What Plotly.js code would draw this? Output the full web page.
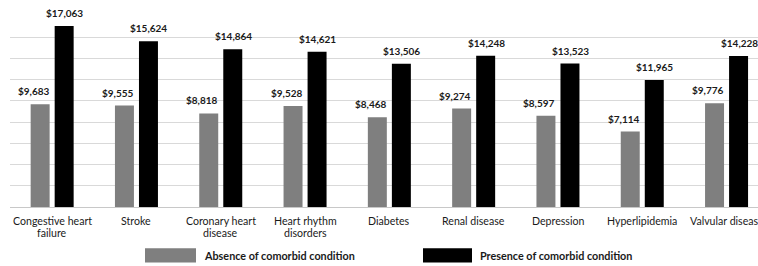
<!DOCTYPE html>
<html>
<head>
<meta charset="utf-8">
<script src="https://cdn.plot.ly/plotly-3.0.1.min.js"></script>
<style>html,body{margin:0;padding:0;background:#fff;}#chart{width:758px;height:266px;}</style>
</head>
<body>
<div id="chart"></div>
<script>
const categories = ["Congestive heart<br>failure", "Stroke", "Coronary heart<br>disease", "Heart rhythm<br>disorders", "Diabetes", "Renal disease", "Depression", "Hyperlipidemia", "Valvular disease"];
const seriesNames = ["Absence of comorbid condition", "Presence of comorbid condition"];
const absenceValues = [9683, 9555, 8818, 9528, 8468, 9274, 8597, 7114, 9776];
const presenceValues = [17063, 15624, 14864, 14621, 13506, 14248, 13523, 11965, 14228];
const seriesColors = ["#7f7f7f", "#000000"];

const FONT = "Lato, 'Open Sans', sans-serif";
const fmt = v => "$" + v.toLocaleString("en-US");

const allSeries = [absenceValues, presenceValues];
const traces = allSeries.map((vals, i) => ({
  type: "bar",
  name: seriesNames[i],
  x: categories,
  y: vals,
  marker: {color: seriesColors[i], line: {width: 0}},
  hoverinfo: "none"
}));

// geometry of the plot area (pixels)
const W = 758, L = 10, plotW = 748, T = 16, plotH = 190.7;
const px = x => (x - L) / plotW;
const py = y => (T + plotH - y) / plotH;

// value labels (gray ones sit slightly left of their bar, as in the original)
const labelShift = [-18.5, 12.5];
const valueLabels = [];
allSeries.forEach((vals, i) => vals.forEach((v, j) => valueLabels.push({
  xref: "x", yref: "y", x: categories[j], y: v,
  xanchor: "center", yanchor: "bottom", xshift: labelShift[i], yshift: 5,
  showarrow: false, text: "<b>" + fmt(v) + "</b>",
  font: {family: FONT, size: 10, color: "#1a1a1a"}
})));

// category labels, one annotation per line for tighter line spacing
const lineY = [221, 232.5];
const catLabels = [];
categories.forEach(c => c.split("<br>").forEach((line, k) => catLabels.push({
  xref: "x", yref: "paper", x: c, y: py(lineY[k]),
  xanchor: "center", yanchor: "middle", showarrow: false,
  text: line, font: {family: FONT, size: 10.6, color: "#1a1a1a"}
})));

// legend drawn as swatches + labels below the plot
const swatches = [[145, 196], [423, 472]];
const shapes = swatches.map((s, i) => ({
  type: "rect", xref: "paper", yref: "paper",
  x0: px(s[0]), x1: px(s[1]), y0: py(262), y1: py(248),
  fillcolor: seriesColors[i], line: {width: 0}
}));
const legendLabels = swatches.map((s, i) => ({
  xref: "paper", yref: "paper", x: px(s[1] + 6), y: py(255),
  xanchor: "left", yanchor: "middle", showarrow: false,
  text: "<b>" + seriesNames[i] + "</b>",
  font: {family: FONT, size: 10.8, color: "#1a1a1a"}
}));

const layout = {
  width: W, height: 266,
  margin: {l: L, r: 0, t: T, b: 266 - T - plotH, pad: 0},
  paper_bgcolor: "#fff", plot_bgcolor: "#fff",
  showlegend: false,
  barmode: "group",
  bargap: 0.43,
  bargroupgap: 0.21,
  font: {family: FONT, color: "#1a1a1a"},
  xaxis: {
    range: [-0.5, 8.373],
    showgrid: false, zeroline: false, showline: false,
    ticks: "", showticklabels: false, automargin: false
  },
  yaxis: {
    range: [0, 18000], dtick: 2000,
    showgrid: true, gridcolor: "#d9d9d9", gridwidth: 1,
    zeroline: true, zerolinecolor: "#c8c8c8", zerolinewidth: 1,
    showticklabels: false, ticks: "", automargin: false
  },
  shapes: shapes,
  annotations: valueLabels.concat(catLabels, legendLabels)
};

Plotly.newPlot("chart", traces, layout, {staticPlot: true, displayModeBar: false});
</script>
</body>
</html>
